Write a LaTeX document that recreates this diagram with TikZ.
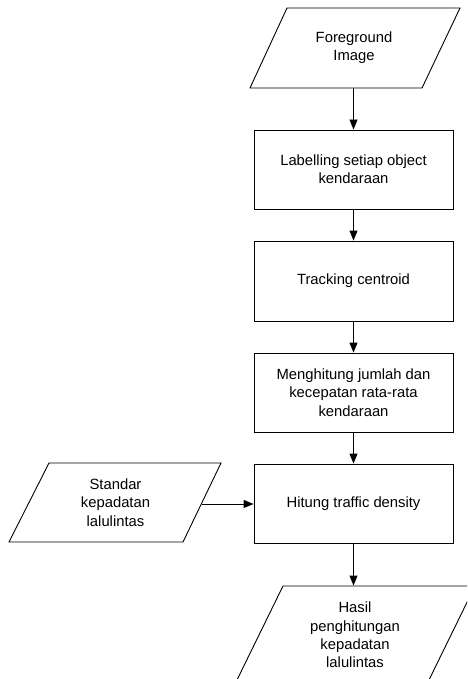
\documentclass[tikz,border=0pt]{standalone}
\usepackage{fontspec}
\setmainfont{Liberation Sans}
\usetikzlibrary{arrows.meta}
\begin{document}
\begin{tikzpicture}[x=1pt,y=-1pt,line width=0.9pt,
  every node/.style={font=\fontsize{14.8}{18.3}\selectfont,align=center,inner sep=0pt},
  procbox/.style={draw,minimum width=199pt,minimum height=80pt},
  iotext/.style={draw=none},
  flow/.style={-{Triangle[length=10pt,width=8pt]}}]
\useasboundingbox (0,0) rectangle (467,679);
% input / output parallelograms
\begin{scope}
\clip (0,0) rectangle (467,679);
\draw (287,8) -- (460,8) -- (422,88) -- (250,88) -- cycle;
\draw (49,463) -- (221,463) -- (183,542) -- (9,542) -- cycle;
\draw (283,586) -- (475,586) -- (427,684) -- (235,684) -- cycle;
\end{scope}
\node[iotext,minimum width=172pt,minimum height=80pt] (fg) at (354,48) {Foreground\\Image};
\node[iotext,minimum width=172pt,minimum height=79pt] (std) at (115.5,502.5) {Standar\\kepadatan\\lalulintas};
\node[iotext,minimum width=192pt,minimum height=98pt] (res) at (355,635) {Hasil\\penghitungan\\kepadatan\\lalulintas};
\coordinate (stdout) at (201.5,504);
% process boxes
\node[procbox,minimum height=79pt] (lab) at (353.5,169.5) {Labelling setiap object\\kendaraan};
\node[procbox] (trk) at (353.5,281) {Tracking centroid};
\node[procbox,minimum height=79pt] (cnt) at (353.5,392.5) {Menghitung jumlah dan\\kecepatan rata-rata\\kendaraan};
\node[procbox,minimum height=79pt] (hit) at (353.5,503.5) {Hitung traffic density};
% connectors
\draw[flow] (lab.north |- fg.south) -- (lab.north);
\draw[flow] (lab.south) -- (trk.north);
\draw[flow] (trk.south) -- (cnt.north);
\draw[flow] (cnt.south) -- (hit.north);
\draw[flow] (stdout) -- (stdout -| hit.west);
\draw[flow] (hit.south) -- (hit.south |- res.north);
\end{tikzpicture}
\end{document}
